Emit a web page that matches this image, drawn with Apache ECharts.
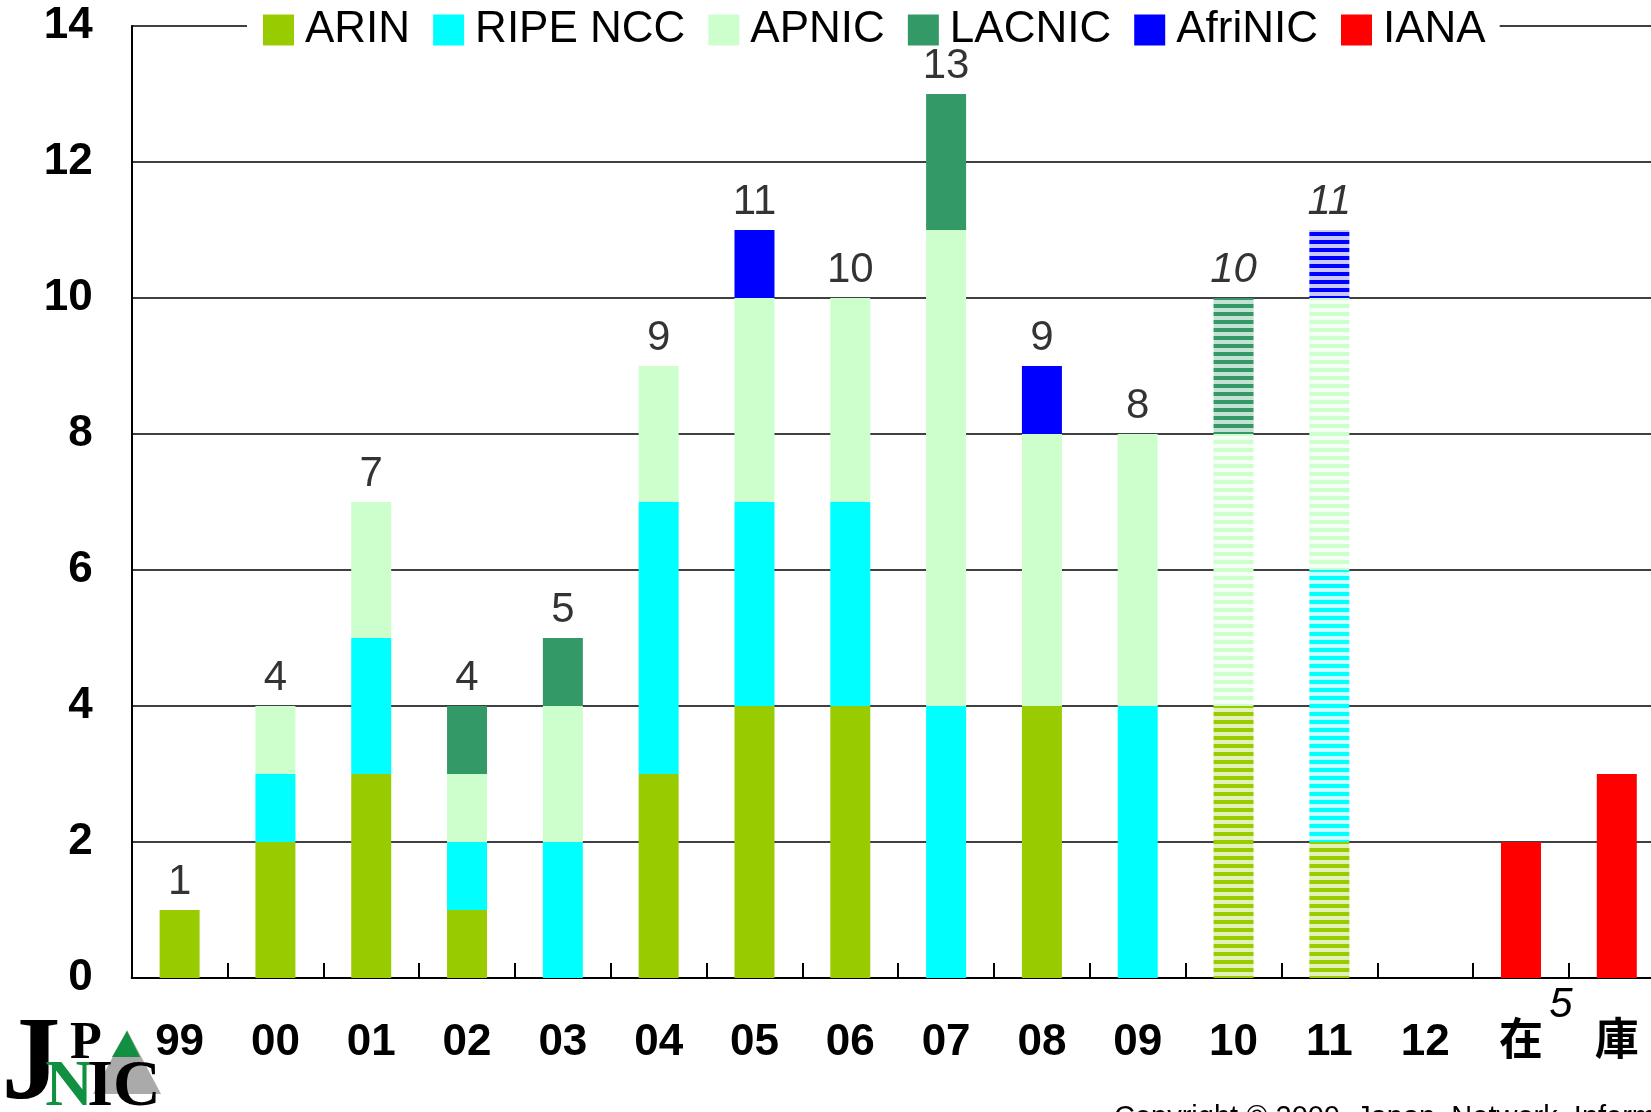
<!DOCTYPE html>
<html><head><meta charset="utf-8">
<script src="https://cdn.jsdelivr.net/npm/echarts@6/dist/echarts.min.js"></script>
<style>html,body{margin:0;padding:0;background:#fff}#c{width:1651px;height:1112px}</style>
</head><body><div id="c"></div>
<script>
const categories = ['99','00','01','02','03','04','05','06','07','08','09','10','11','12','在','庫'];
const projected = ['10','11'];
const ARIN    = [1,2,3,1,0,3,4,4,0,4,0,4,2,0,0,0];
const RIPE    = [0,1,2,1,2,4,3,3,4,0,4,0,4,0,0,0];
const APNIC   = [0,1,2,1,2,2,3,3,7,4,4,4,4,0,0,0];
const LACNIC  = [0,0,0,1,1,0,0,0,2,0,0,2,0,0,0,0];
const AfriNIC = [0,0,0,0,0,0,1,0,0,1,0,0,1,0,0,0];
const IANA    = [0,0,0,0,0,0,0,0,0,0,0,0,0,0,2,3];
const stockLabel = '5';
const yTicks = [0,2,4,6,8,10,12,14];

const FONT = "'Liberation Sans','Noto Sans CJK JP',sans-serif";
const defs = [
  {name:'ARIN', data:ARIN, color:'#99cc00', light:'#e3f1b8'},
  {name:'RIPE NCC', data:RIPE, color:'#00ffff', light:'#c8ffff'},
  {name:'APNIC', data:APNIC, color:'#ccffcc', light:'#f6fff6'},
  {name:'LACNIC', data:LACNIC, color:'#339966', light:'#c4e2d3'},
  {name:'AfriNIC', data:AfriNIC, color:'#0000ff', light:'#c8c8ff'},
  {name:'IANA', data:IANA, color:'#ff0000', light:'#ffc8c8'}
];
function stripe(color, light){
  const c=document.createElement('canvas'); c.width=8; c.height=8;
  const g=c.getContext('2d'); g.fillStyle=light; g.fillRect(0,0,8,8);
  g.fillStyle=color; g.fillRect(0,0,8,4);
  return {image:c, repeat:'repeat'};
}
const series = defs.map(d=>({
  name:d.name, type:'bar', stack:'t', barWidth:40,
  itemStyle:{color:d.color},
  data:d.data.map((v,i)=>{
    const val = v===0?null:v;
    if(projected.includes(categories[i]) && val!=null)
      return {value:val, itemStyle:{color:stripe(d.color,d.light)}};
    return val;
  })
}));
const totals = categories.map((c,i)=>{
  if(IANA[i]>0) return null;
  const s = defs.reduce((a,d)=>a+d.data[i],0);
  return s>0?s:null;
});
series.push({
  name:'total', type:'scatter', symbolSize:1, itemStyle:{color:'rgba(0,0,0,0)'},
  label:{show:true, position:'top', distance:6, color:'#000', fontSize:42, fontFamily:FONT},
  data:totals.map((v,i)=>{
    if(v==null) return null;
    return projected.includes(categories[i]) ? {value:v, label:{fontStyle:'italic'}} : v;
  }),
  z:10
});

const chart = echarts.init(document.getElementById('c'));
chart.setOption({
  animation:false,
  backgroundColor:'#fff',
  grid:{left:131.7, top:26, width:1533, height:952, containLabel:false, outerBoundsMode:'none'},
  legend:{
    data:defs.map(d=>d.name), left:247, top:7, padding:[1,14,1,16],
    backgroundColor:'#fff', itemWidth:31, itemHeight:31, itemGap:23, icon:'rect',
    textStyle:{fontSize:44, color:'#000', fontFamily:FONT, padding:[0,0,0,6]}
  },
  xAxis:{type:'category', data:categories,
    axisLine:{lineStyle:{color:'#000', width:2}},
    axisTick:{show:true, inside:true, length:15, interval:0, lineStyle:{color:'#000', width:2}},
    axisLabel:{fontSize:44, fontWeight:'bold', color:'#000', margin:43, fontFamily:FONT, interval:0}
  },
  yAxis:{type:'value', min:0, max:14, interval:2,
    axisLine:{show:true, lineStyle:{color:'#000', width:2}},
    axisTick:{show:false},
    splitLine:{lineStyle:{color:'#000', width:1.5}},
    axisLabel:{fontSize:44, fontWeight:'bold', color:'#000', margin:39, fontFamily:FONT,
      formatter:v=>yTicks.includes(v)?String(v):''}
  },
  series
});

const p1 = chart.convertToPixel({gridIndex:0}, ['在',0]);
const p2 = chart.convertToPixel({gridIndex:0}, ['庫',0]);
const SERIF = "'Liberation Serif','DejaVu Serif',serif";
chart.setOption({graphic:[
  {type:'text', style:{x:(p1[0]+p2[0])/2-8, y:p1[1]+27, text:stockLabel, fontSize:42, fontStyle:'italic', fontFamily:FONT, fill:'#000', textAlign:'center', textVerticalAlign:'middle'}, z:20},
  {type:'polygon', shape:{points:[[127,1030],[93,1094],[161,1094]]}, style:{fill:'#aaaaaa'}},
  {type:'polygon', shape:{points:[[127,1031],[112,1057],[140,1057]]}, style:{fill:'#109040'}},
  {type:'text', style:{x:31, y:1068, text:'J', fontSize:118, fontWeight:'bold', fontFamily:SERIF, fill:'#000', textAlign:'center', textVerticalAlign:'middle'}},
  {type:'text', style:{x:86, y:1045, text:'P', fontSize:52, fontWeight:'bold', fontFamily:SERIF, fill:'#000', textAlign:'center', textVerticalAlign:'middle'}},
  {type:'text', style:{x:69, y:1088, text:'N', fontSize:66, fontWeight:'bold', fontFamily:SERIF, fill:'#109040', textAlign:'center', textVerticalAlign:'middle'}},
  {type:'text', style:{x:124, y:1088, text:'IC', fontSize:66, fontWeight:'bold', fontFamily:SERIF, fill:'#000', textAlign:'center', textVerticalAlign:'middle'}},
  {type:'text', style:{x:1114, y:1103, text:'Copyright © 2009  Japan  Network  Information  Center', fontSize:29, fontFamily:FONT, fill:'#000', textAlign:'left', textVerticalAlign:'top'}}
]});
</script></body></html>
